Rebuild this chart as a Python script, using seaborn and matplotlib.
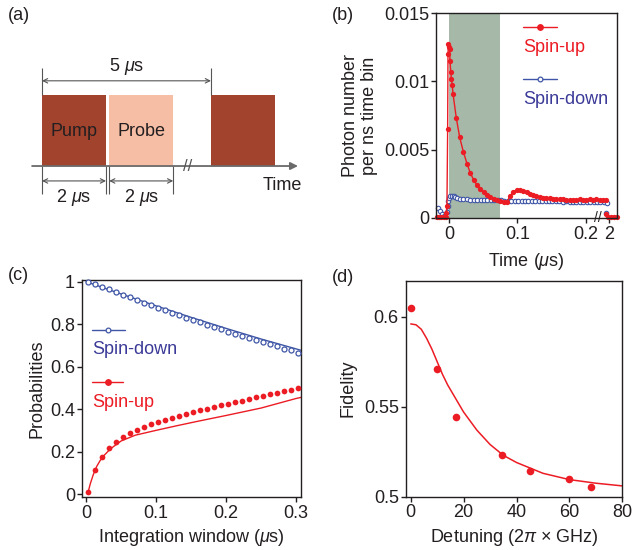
import matplotlib
matplotlib.use("Agg")
import numpy as np
import matplotlib.pyplot as plt
import seaborn as sns
from matplotlib.patches import Rectangle

RED = "#ec1c24"
BLUE = "#3f56a6"
BLUE_TXT = "#3b3a98"
INK = "#231f20"
GREY = "#555555"

# (a) pulse sequence (schematic time units, ~1 unit per us, gap not to scale)
pulse_names = ["Pump", "Probe", ""]
pulse_start = [0.0, 2.1, 5.28]
pulse_width = [2.0, 2.0, 2.0]
pulse_color = ["#a2432e", "#f7bea6", "#a2432e"]
time_axis_span = (-0.31, 8.0)
break_a = 4.56

# (b) photon number per ns time bin vs time (us)
t_up = [-0.017, -0.014, -0.011, -0.008, -0.005, -0.004, -0.003, -0.002,
        -0.0015, -0.001, 0.0, 0.0008, 0.0015, 0.0025, 0.0035, 0.0048, 0.0058,
        0.0107, 0.0156, 0.0209, 0.0263, 0.0311, 0.0361, 0.0409, 0.0457,
        0.0507, 0.0555, 0.0603, 0.0653, 0.0701, 0.0749, 0.0799, 0.0847,
        0.089, 0.0938, 0.0988, 0.1036, 0.1085, 0.1134, 0.1182, 0.1226,
        0.1275, 0.1324, 0.1372, 0.1421, 0.147, 0.1518, 0.1567, 0.1616,
        0.1665, 0.1713, 0.1762, 0.181, 0.1859, 0.1908, 0.1956, 0.2005,
        0.2054, 0.2102, 0.2151, 0.22, 0.2248, 0.2297]
n_up = [0.0001, 0.0001, 0.0001, 0.0001, 0.0001, 0.0004, 0.0009, 0.0065,
        0.0120, 0.0127, 0.0125, 0.0124, 0.0115, 0.0107, 0.0102, 0.0097, 0.0091,
        0.0073, 0.0059, 0.00485, 0.00397, 0.00329, 0.00278, 0.00241, 0.0021,
        0.00188, 0.00168, 0.00154, 0.00142, 0.00132, 0.00124, 0.00119, 0.00117,
        0.0016, 0.0019, 0.00203, 0.00205, 0.00198, 0.00187, 0.00176, 0.00166,
        0.0016, 0.00154, 0.0015, 0.00146, 0.00143, 0.00141, 0.00139, 0.00137,
        0.00136, 0.00134, 0.00135, 0.00133, 0.00134, 0.00136, 0.00134, 0.00135,
        0.00137, 0.00135, 0.00136, 0.00134, 0.00135, 0.00132]
t_down = [-0.0156, -0.0131, -0.0102, -0.0073, -0.0034, -0.0019, -0.001, 0.0,
          0.0019, 0.0044, 0.0066, 0.0088, 0.0117, 0.016, 0.021, 0.026, 0.031,
          0.036, 0.041, 0.046, 0.051, 0.056, 0.061, 0.066, 0.071, 0.076, 0.081,
          0.086, 0.091, 0.096, 0.101, 0.106, 0.111, 0.116, 0.121, 0.126, 0.131,
          0.136, 0.141, 0.146, 0.151, 0.156, 0.161, 0.166, 0.171, 0.176, 0.181,
          0.186, 0.191, 0.196, 0.201, 0.206, 0.211, 0.216, 0.221, 0.226, 0.23]
n_down = [0.0007, 0.0005, 0.0003, 0.00015, 0.00046, 0.00088, 0.00127, 0.00149,
          0.00161, 0.00163, 0.00159, 0.00154, 0.00143, 0.00138, 0.00136, 0.00137,
          0.00135, 0.00134, 0.00135, 0.00133, 0.00134, 0.00132, 0.00133, 0.00131,
          0.0013, 0.00131, 0.00128, 0.00127, 0.00126, 0.00127, 0.00125, 0.00126,
          0.00124, 0.00125, 0.00124, 0.00123, 0.00124, 0.00122, 0.00123, 0.00122,
          0.00121, 0.00122, 0.00121, 0.0012, 0.00121, 0.0012, 0.00119, 0.0012,
          0.00119, 0.00118, 0.00119, 0.00118, 0.00117, 0.00118, 0.00116, 0.00115,
          0.00108]
t_tail_up = [1.995, 1.999, 2.003, 2.007, 2.011]
n_tail_up = [0.0003, 0.0001, 0.0001, 0.0001, 0.0001]
t_tail_down = [1.995]
n_tail_down = [0.0004]
shade_window = (0.0, 0.075)
tick2_pos = 0.2336     # where t = 2 us sits after the axis break
break_b = 0.2175

# (c) probabilities vs integration window (us)
win = [0.002, 0.012, 0.022, 0.032, 0.042, 0.052, 0.062, 0.072, 0.082, 0.092,
       0.102, 0.112, 0.122, 0.132, 0.142, 0.152, 0.162, 0.172, 0.182, 0.192,
       0.202, 0.212, 0.222, 0.232, 0.242, 0.252, 0.262, 0.272, 0.282, 0.292,
       0.302]
p_down = [1.0, 0.988, 0.976, 0.964, 0.951, 0.939, 0.927, 0.914, 0.902, 0.890,
          0.878, 0.866, 0.854, 0.843, 0.831, 0.820, 0.809, 0.798, 0.787, 0.776,
          0.765, 0.755, 0.745, 0.735, 0.725, 0.715, 0.705, 0.695, 0.685, 0.676,
          0.666]
p_up = [0.008, 0.113, 0.174, 0.215, 0.246, 0.268, 0.286, 0.301, 0.316, 0.330,
        0.339, 0.350, 0.360, 0.369, 0.378, 0.386, 0.394, 0.402, 0.409, 0.417,
        0.424, 0.432, 0.440, 0.447, 0.455, 0.462, 0.469, 0.477, 0.484, 0.491,
        0.498]
win_fit_up = [0.002, 0.006, 0.01, 0.015, 0.02, 0.025, 0.03, 0.035, 0.04, 0.05,
              0.07, 0.1, 0.13, 0.16, 0.2, 0.25, 0.3, 0.307]
p_fit_up = [0.0, 0.05, 0.09, 0.13, 0.158, 0.18, 0.197, 0.213, 0.226, 0.25,
            0.277, 0.30, 0.322, 0.343, 0.370, 0.405, 0.450, 0.455]
win_fit_down = [0.0, 0.05, 0.1, 0.15, 0.2, 0.25, 0.307]
p_fit_down = [1.0, 0.942, 0.886, 0.832, 0.780, 0.730, 0.677]

# (d) fidelity vs detuning (2pi x GHz)
detuning = [0.0, 10.1, 17.3, 34.7, 45.0, 59.7, 68.1]
fidelity = [0.605, 0.571, 0.544, 0.523, 0.514, 0.510, 0.5055]
det_fit = [0, 2, 4, 6, 8, 10, 12, 14, 16, 18, 20, 25, 30, 35, 40, 50, 60, 70, 80]
fid_fit = [0.596, 0.5955, 0.593, 0.588, 0.582, 0.575, 0.568, 0.562, 0.557,
           0.552, 0.547, 0.537, 0.529, 0.523, 0.519, 0.513, 0.5095, 0.5075, 0.506]

sns.set_theme(style="ticks")
plt.rcParams.update({
    "font.family": ["Liberation Sans", "DejaVu Sans"],
    "font.size": 13,
    "mathtext.fontset": "custom",
    "mathtext.rm": "Liberation Sans",
    "mathtext.it": "Liberation Sans:italic",
    "axes.edgecolor": INK,
    "axes.linewidth": 1.0,
    "axes.labelcolor": INK,
    "axes.labelsize": 13,
    "text.color": INK,
    "xtick.color": INK,
    "ytick.color": INK,
    "xtick.labelsize": 13,
    "ytick.labelsize": 13,
    "xtick.major.size": 3.5,
    "ytick.major.size": 3.5,
    "xtick.major.width": 1.0,
    "ytick.major.width": 1.0,
    "xtick.major.pad": 2,
    "ytick.major.pad": 1.5,
})

W, H = 634, 550
fig = plt.figure(figsize=(W / 100, H / 100), dpi=100)


def px_axes(left, top, right, bottom):
    return fig.add_axes([left / W, 1 - bottom / H, (right - left) / W, (bottom - top) / H])


def stacked_legend(ax, x0, x1, y_handle, y_text, label, color, txt_color, filled):
    ax.plot([x0, x1], [y_handle, y_handle], transform=ax.transAxes, color=color,
            lw=1.0, clip_on=False)
    ax.plot([(x0 + x1) / 2], [y_handle], transform=ax.transAxes, marker="o",
            ms=4 if filled else 3.4, color=color, mfc=color if filled else "white",
            mew=0.9, clip_on=False)
    ax.text(x0, y_text, label, transform=ax.transAxes, color=txt_color,
            ha="left", va="center", fontsize=13)


# ---------------- (a) ----------------
ax_a = px_axes(0, 0, 317, 230)
ax_a.set_xlim(-1.3125, 8.594)
ax_a.set_ylim(-0.901, 2.338)
ax_a.axis("off")
for name, s, w, c in zip(pulse_names, pulse_start, pulse_width, pulse_color):
    ax_a.add_patch(Rectangle((s, 0), w, 1, fc=c, ec="none"))
    if name:
        ax_a.text(s + w / 2, 0.48, name, ha="center", va="center", fontsize=13)
ax_a.annotate("", xy=(time_axis_span[1], 0), xytext=(time_axis_span[0], 0),
              arrowprops=dict(arrowstyle="-|>", color="#6a6a6a", lw=1.3,
                              mutation_scale=11, shrinkA=0, shrinkB=0))
ax_a.text(break_a, 0, "//", ha="center", va="center", fontsize=12, color=GREY)
ax_a.text(6.9, -0.28, "Time", ha="left", va="center", fontsize=13)

period_end = pulse_start[2]
ax_a.vlines([0, period_end], 1.0, 1.38, color=GREY, lw=0.8)
ax_a.annotate("", xy=(period_end, 1.2), xytext=(0, 1.2),
              arrowprops=dict(arrowstyle="<->", color=GREY, lw=0.8,
                              shrinkA=0, shrinkB=0, mutation_scale=8))
ax_a.text(period_end / 2, 1.40, "5 $\\mu$s", ha="center", va="center", fontsize=13)

edges = [pulse_start[0], pulse_start[0] + pulse_width[0],
         pulse_start[1], pulse_start[1] + pulse_width[1]]
ax_a.vlines(edges, -0.39, 0, color=GREY, lw=0.8)
for s, w in zip(pulse_start[:2], pulse_width[:2]):
    ax_a.annotate("", xy=(s + w, -0.21), xytext=(s, -0.21),
                  arrowprops=dict(arrowstyle="<->", color=GREY, lw=0.8,
                                  shrinkA=0, shrinkB=0, mutation_scale=8))
    ax_a.text(s + w / 2, -0.44, "2 $\\mu$s", ha="center", va="center", fontsize=13)

# ---------------- (b) ----------------
ax_b = px_axes(436, 13, 617, 218)
ax_b.axvspan(*shade_window, color="#a6b8a7", lw=0)
sns.lineplot(x=t_down, y=n_down, ax=ax_b, color=BLUE, lw=0.9, marker="o", ms=3.2,
             mfc="white", mec=BLUE, mew=0.8, sort=False, estimator=None,
             legend=False, clip_on=False)
sns.lineplot(x=t_up, y=n_up, ax=ax_b, color=RED, lw=1.0, marker="o", ms=3.8,
             mec=RED, mew=0, sort=False, estimator=None, legend=False, clip_on=False)
x_tail_up = np.array(t_tail_up) - 2.0 + tick2_pos
x_tail_down = np.array(t_tail_down) - 2.0 + tick2_pos
sns.lineplot(x=x_tail_down, y=n_tail_down, ax=ax_b, color=BLUE, marker="o", ms=3.2,
             mfc="white", mec=BLUE, mew=0.8, lw=0, legend=False, clip_on=False)
sns.lineplot(x=x_tail_up, y=n_tail_up, ax=ax_b, color=RED, marker="o", ms=3.8,
             mec=RED, mew=0, lw=1.0, sort=False, estimator=None, legend=False,
             clip_on=False)
ax_b.set_xlim(-0.019, 0.2453)
ax_b.set_ylim(0, 0.015)
ax_b.set_xticks([0, 0.1, 0.2, tick2_pos], ["0", "0.1", "0.2", "2"])
ax_b.set_yticks([0, 0.005, 0.01, 0.015], ["0", "0.005", "0.01", "0.015"])
ax_b.text(break_b, 0, "//", transform=ax_b.get_xaxis_transform(), ha="center",
          va="center", fontsize=10, color=INK, clip_on=False)
ax_b.set_xlabel("Time ($\\mu$s)", labelpad=6)
ax_b.set_ylabel("Photon number\nper ns time bin", labelpad=4, linespacing=1.15)
stacked_legend(ax_b, 0.48, 0.668, 0.932, 0.834, "Spin-up", RED, RED, True)
stacked_legend(ax_b, 0.48, 0.668, 0.678, 0.580, "Spin-down", BLUE, BLUE_TXT, False)

# ---------------- (c) ----------------
ax_c = px_axes(82, 280, 301, 497)
sns.lineplot(x=win_fit_down, y=p_fit_down, ax=ax_c, color=BLUE, lw=1.0, legend=False)
sns.lineplot(x=win_fit_up, y=p_fit_up, ax=ax_c, color=RED, lw=1.0, legend=False)
sns.scatterplot(x=win, y=p_down, ax=ax_c, marker="o", s=13, facecolor="white",
                edgecolor=BLUE, linewidth=0.9, legend=False, clip_on=False, zorder=3)
sns.scatterplot(x=win, y=p_up, ax=ax_c, marker="o", s=17, color=RED,
                linewidth=0, legend=False, clip_on=False, zorder=3)
ax_c.set_xlim(-0.006, 0.307)
ax_c.set_ylim(-0.014, 1.008)
ax_c.set_xticks([0, 0.1, 0.2, 0.3], ["0", "0.1", "0.2", "0.3"])
ax_c.set_yticks([0, 0.2, 0.4, 0.6, 0.8, 1.0], ["0", "0.2", "0.4", "0.6", "0.8", "1"])
ax_c.set_xlabel("Integration window ($\\mu$s)", labelpad=4)
ax_c.set_ylabel("Probabilities", labelpad=3)
stacked_legend(ax_c, 0.046, 0.196, 0.77, 0.682, "Spin-down", BLUE, BLUE_TXT, False)
stacked_legend(ax_c, 0.046, 0.188, 0.531, 0.435, "Spin-up", RED, RED, True)

# ---------------- (d) ----------------
ax_d = px_axes(405.7, 280.7, 622.3, 496.7)
sns.lineplot(x=det_fit, y=fid_fit, ax=ax_d, color=RED, lw=1.1, legend=False)
sns.scatterplot(x=detuning, y=fidelity, ax=ax_d, s=30, color=RED, linewidth=0,
                legend=False, clip_on=False, zorder=3)
ax_d.set_xlim(-1.9, 80)
ax_d.set_ylim(0.5, 0.62)
ax_d.set_xticks([0, 20, 40, 60, 80])
ax_d.set_yticks([0.5, 0.55, 0.6], ["0.5", "0.55", "0.6"])
ax_d.set_xlabel("Detuning (2$\\pi$ × GHz)", labelpad=4)
ax_d.set_ylabel("Fidelity", labelpad=5)

# panel letters
for letter, x, y in [("(a)", 8, 16), ("(b)", 332, 15), ("(c)", 8, 275), ("(d)", 332, 277)]:
    fig.text(x / W, 1 - y / H, letter, ha="left", va="center", fontsize=13)

fig.savefig("out.png", dpi=100)
